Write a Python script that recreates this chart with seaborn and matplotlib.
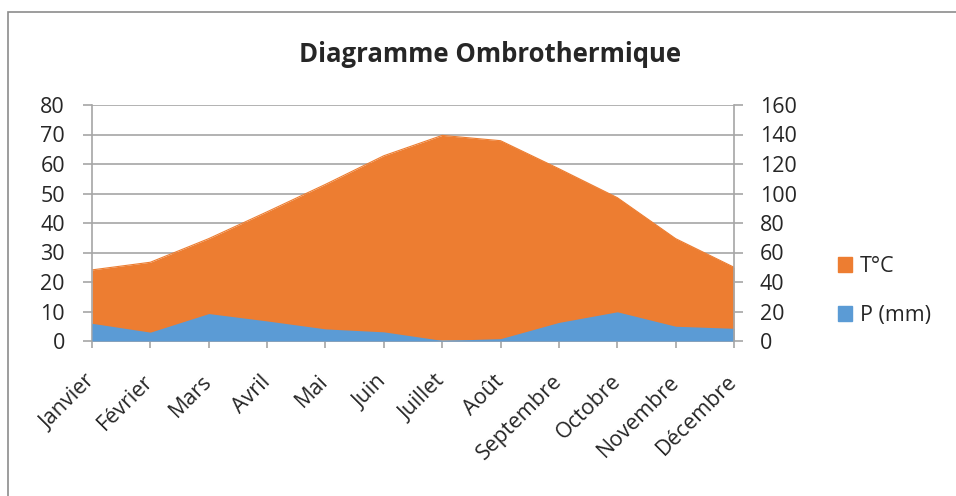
import matplotlib
matplotlib.use('Agg')
import matplotlib.pyplot as plt
import seaborn as sns
import numpy as np
from matplotlib.patches import Patch, Rectangle

# Data
months = ['Janvier', 'Février', 'Mars', 'Avril', 'Mai', 'Juin',
          'Juillet', 'Août', 'Septembre', 'Octobre', 'Novembre', 'Décembre']
temp_c = [24.1, 26.7, 34.7, 43.8, 53.1, 62.8, 69.7, 67.9, 58.4, 48.6, 34.7, 25.0]
precip_mm = [12.0, 6.0, 18.6, 13.6, 8.2, 6.2, 0.4, 1.6, 12.6, 19.8, 10.0, 8.6]

ORANGE = '#ED7D31'
BLUE = '#5B9BD5'
GRID = '#A6A6A6'
FS = 15.5

sns.set_theme(style='white')
plt.rcParams['font.family'] = ['Open Sans', 'DejaVu Sans']

fig = plt.figure(figsize=(9.56, 4.96), dpi=100)
ax = fig.add_axes([92 / 956, 1 - 341 / 496, (734 - 92) / 956, (341 - 105) / 496])
x = np.arange(len(months))

# T°C on primary axis
ax.fill_between(x, 0, temp_c, color=ORANGE, linewidth=0, zorder=2)
sns.lineplot(x=x, y=temp_c, ax=ax, color=ORANGE, linewidth=0.8, zorder=2)
ax.set_ylim(0, 80)
ax.set_xlim(0, len(months) - 1)
ax.set_yticks(range(0, 81, 10))
ax.yaxis.grid(True, color=GRID, linewidth=1.2)
ax.set_axisbelow(True)

# P (mm) on secondary axis, drawn on top
ax2 = ax.twinx()
ax2.fill_between(x, 0, precip_mm, color=BLUE, linewidth=0, zorder=2)
ax2.set_ylim(0, 160)
ax2.set_yticks(range(0, 161, 20))

ax.set_xticks(x)
ax.set_xticklabels(months, rotation=45, ha='right', va='center', rotation_mode='anchor', fontsize=FS)
ax.tick_params(axis='x', direction='out', length=5, width=1.2, color=GRID, pad=22, bottom=True)
ax.tick_params(axis='y', direction='out', length=6.5, width=1.2, color=GRID, labelsize=FS, left=True, pad=13)
ax2.tick_params(axis='y', direction='out', length=6.5, width=1.2, color=GRID, labelsize=FS, right=True, pad=12)

for a in (ax, ax2):
    a.spines['top'].set_visible(False)
    for side in ('left', 'right', 'bottom'):
        a.spines[side].set_color(GRID)
        a.spines[side].set_linewidth(1.2)
ax.spines['right'].set_visible(False)
ax2.spines['left'].set_visible(False)
ax2.spines['bottom'].set_visible(False)

fig.text(490 / 956, 1 - 54 / 496, 'Diagramme Ombrothermique', ha='center', va='center',
         fontsize=18.5, fontweight='bold')

handles = [Patch(color=ORANGE, label='T°C'), Patch(color=BLUE, label='P (mm)')]
fig.legend(handles=handles, loc='center left', bbox_to_anchor=(838 / 956, 1 - 291 / 496),
           frameon=False, fontsize=FS, handlelength=0.65, handleheight=0.65,
           handletextpad=0.35, labelspacing=1.3, borderpad=0, borderaxespad=0)

# chart area border
fig.patches.append(Rectangle((8 / 956, -0.1), 1.2, 1 - 12 / 496 + 0.1, transform=fig.transFigure,
                             fill=False, edgecolor='#8C8C8C', linewidth=1.2, zorder=0))

fig.savefig('out.png', dpi=100)
